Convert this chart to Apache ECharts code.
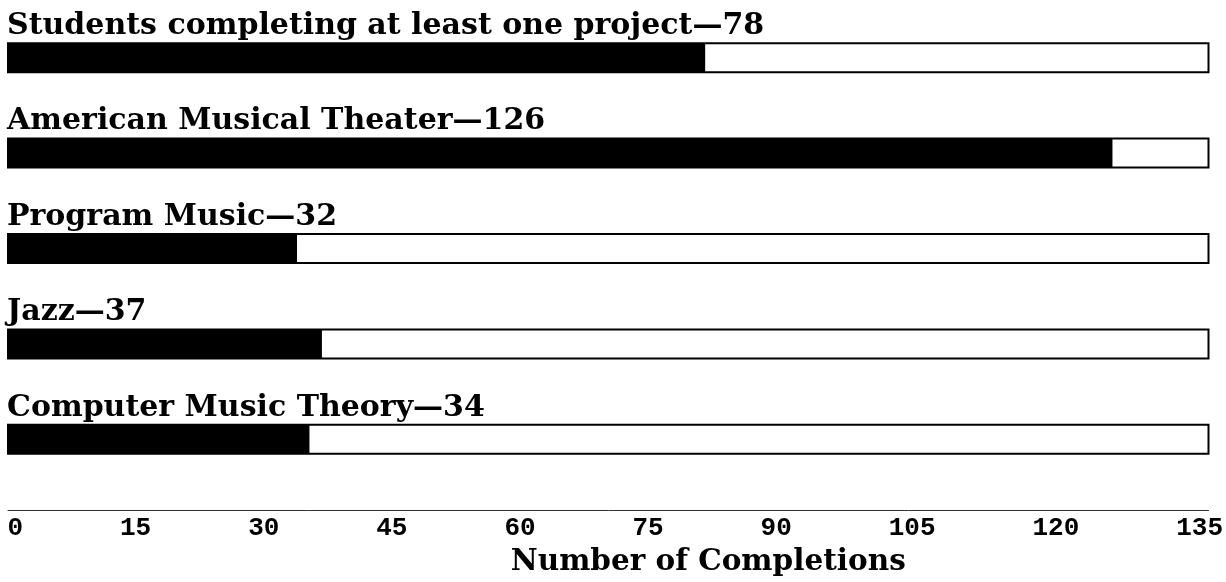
<!DOCTYPE html>
<html><head><meta charset="utf-8">
<script src="https://cdn.jsdelivr.net/npm/echarts@6/dist/echarts.min.js"></script>
<style>html,body{margin:0;padding:0;background:#fff}#c{width:1226px;height:582px}</style>
</head><body><div id="c"></div>
<script>
// ---- data ----
const categories = ['Students completing at least one project', 'American Musical Theater', 'Program Music', 'Jazz', 'Computer Music Theory'];
const labelCounts = [78, 126, 32, 37, 34];          // numbers printed in the labels
const barValues = [78.4, 124.2, 32.5, 35.3, 33.9];   // bar lengths as drawn
const tickValues = [0, 15, 30, 45, 60, 75, 90, 105, 120, 135];
const axisTitle = 'Number of Completions';

// ---- layout ----
const GRID_LEFT = 8, GRID_RIGHT = 17, CHART_W = 1226;
const AXIS_MIN = 0, AXIS_MAX = 135, AXIS_STEP = 15;
const LABEL_SPAN_LEFT = 7.5, LABEL_SPAN_RIGHT = 1223.5;
const TICK_FONT_SIZE = 26, TICK_FONT = 'Liberation Mono';
const SERIF = '"DejaVu Serif", serif';
const LABEL_SIZE = 30, TITLE_SIZE = 29.5;

// tick labels laid out "space-between" across the span
const ctx = document.createElement('canvas').getContext('2d');
ctx.font = 'bold ' + TICK_FONT_SIZE + 'px "' + TICK_FONT + '"';
const widths = tickValues.map(v => ctx.measureText(String(v)).width);
const totalW = widths.reduce((a, b) => a + b, 0);
const gap = (LABEL_SPAN_RIGHT - LABEL_SPAN_LEFT - totalW) / (tickValues.length - 1);
const gridW = CHART_W - GRID_RIGHT - GRID_LEFT;
const rich = {};
let cur = LABEL_SPAN_LEFT;
tickValues.forEach((v, i) => {
  const center = cur + widths[i] / 2;
  cur += widths[i] + gap;
  const tickX = GRID_LEFT + (v - AXIS_MIN) / (AXIS_MAX - AXIS_MIN) * gridW;
  const dx = center - tickX;
  rich['t' + i] = {
    fontFamily: TICK_FONT, fontWeight: 'bold', fontSize: TICK_FONT_SIZE, color: '#000',
    padding: dx >= 0 ? [0, 0, 0, 2 * dx] : [0, -2 * dx, 0, 0]
  };
});

const chart = echarts.init(document.getElementById('c'), null, { renderer: 'canvas' });
chart.setOption({
  animation: false,
  backgroundColor: '#fff',
  grid: { left: GRID_LEFT, right: GRID_RIGHT, top: 10, bottom: 94 },
  xAxis: {
    type: 'value', min: AXIS_MIN, max: AXIS_MAX, interval: AXIS_STEP,
    offset: 23,
    axisLine: { show: true, lineStyle: { color: '#333', width: 1 } },
    axisTick: { show: false },
    splitLine: { show: false },
    axisLabel: {
      margin: 5,
      showMinLabel: true, showMaxLabel: true,
      formatter: (val) => '{t' + tickValues.indexOf(val) + '|' + val + '}',
      rich: rich
    },
    name: axisTitle,
    nameLocation: 'middle',
    nameGap: 37,
    nameTextStyle: { fontFamily: SERIF, fontWeight: 'bold', fontSize: TITLE_SIZE, color: '#000', padding: [0, 0, 0, 200] }
  },
  yAxis: {
    type: 'category', data: categories, inverse: true,
    axisLine: { show: false }, axisTick: { show: false }, axisLabel: { show: false }, splitLine: { show: false }
  },
  series: [{
    type: 'bar',
    data: barValues,
    barWidth: 29,
    showBackground: true,
    backgroundStyle: { color: '#fff', borderColor: '#000', borderWidth: 2 },
    itemStyle: { color: '#000', borderColor: '#000', borderWidth: 2 },
    label: {
      show: true,
      position: [-1, -2],
      align: 'left',
      verticalAlign: 'bottom',
      formatter: (p) => categories[p.dataIndex] + '\u2014' + labelCounts[p.dataIndex],
      fontFamily: SERIF, fontWeight: 'bold', fontSize: LABEL_SIZE, color: '#000'
    }
  }]
});
</script>
</body></html>
